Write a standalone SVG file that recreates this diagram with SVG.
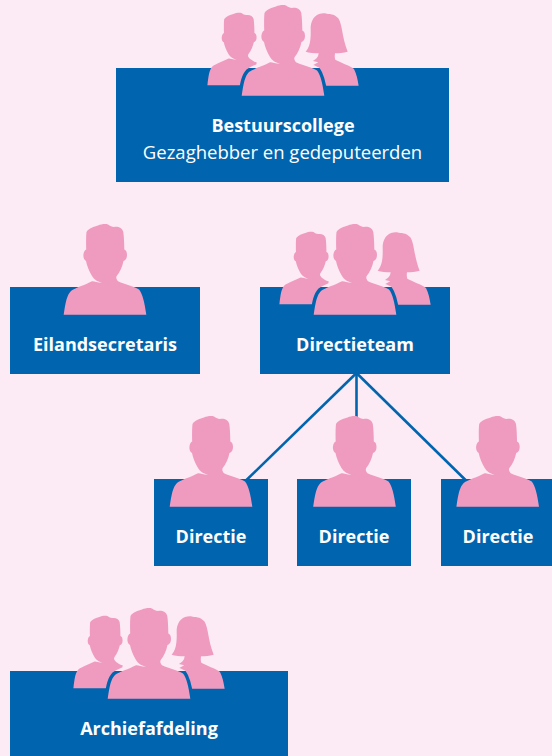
<svg xmlns="http://www.w3.org/2000/svg" xmlns:xlink="http://www.w3.org/1999/xlink" width="552" height="756" viewBox="0 0 552 756">
<style>
.box{fill:#0065AE}
.fig{fill:#EF9BC0}
.lbl{font-family:"Open Sans","Noto Sans",sans-serif;font-size:18px;fill:#fff;text-anchor:middle;font-weight:700}
.sub{font-weight:400;font-size:18.5px}
.ln{stroke:#0065AE;stroke-width:2.6;fill:none}
</style>
<defs>
<path id="man" d="M-41.3 90.7C-39.5 78-38 71-34 67C-30 64-20 61-13 57.3C-11 57-8 58.7-3 58.7C-7 58-11 55.5-13 52C-16 47-18 42-19 37C-21 36-22 33-21.5 30C-21 27.5-20 26-18.8 25.5C-19 20-19 12-18.5 8C-16 4-11 2.5-7 1.5C-4 .3 0 -.4 3 .5C5 2 7 3 9 3C13 2.2 17 3.5 18.3 8C19 13 19.3 20 19.3 25.5C21 26 22 28 22 31C22 34 20.5 36.5 18.5 37C17.5 42 15 48 11.7 52C10.5 54 12 56 13 57.3C20 60.5 30 63 34 65.5C37.5 70 39.5 78 41.3 90.7Z"/>
<path id="woman" d="M347 155C365 135 362 100 362 80C365 50 385 38 405 40C420 44 430 40 445 55C458 75 455 110 473 155C460 159 447 160 435 160C434 168 434 174 436 179C450 187 480 197 492 207C500 222 503 240 506 257L400 257L360 200L385 187L369 183C378 178 385 172 386 160C372 160 358 158 347 155Z"/>
<path id="manL" d="M-39.5 90.7C-38 78-37 71-33 67C-29 64-20 61-13 57.3C-11 57-8 58.7-3 58.7C-7 58-11 55.5-13 52C-16 47-18 42-19 37C-21 36-22 33-21.5 30C-21 27.5-20 26-18.8 25.5C-19 20-19 12-18.5 8C-16 4-11 2.5-7 1.5C-4 .3 0 -.4 3 .5C5 2 7 3 9 3C13 2.2 17 3.5 18.3 8C19 13 19.3 20 19.3 25.5C21 26 22 28 22 31C22 34 20.5 36.5 18.5 37C17.5 42 15 48 11.7 52C10.5 54 12 56 14 58C18 61 20 62 22 62L20 90.7Z"/>
<clipPath id="above"><rect x="-60" y="-10" width="120" height="73"/></clipPath>
<clipPath id="below"><rect x="-60" y="63" width="120" height="40"/></clipPath>
<g id="trio">
<use href="#manL" class="fig" transform="translate(-44 7.7) scale(.8)"/>
<use href="#woman" class="fig" transform="translate(-93 -5) scale(.3333)"/>
<g clip-path="url(#above)"><use href="#man" fill="#FCEAF5" stroke="#FCEAF5" stroke-width="7"/></g>
<g clip-path="url(#below)"><use href="#man" fill="#0065AE" stroke="#0065AE" stroke-width="7"/></g>
<use href="#man" class="fig"/>
</g>
</defs>
<rect width="552" height="756" fill="#FCEAF5"/>
<g id="connectors">
<line class="ln" x1="356.5" y1="373" x2="246.5" y2="480"/>
<line class="ln" x1="356.5" y1="373" x2="356.5" y2="420"/>
<line class="ln" x1="356.5" y1="373" x2="465.5" y2="480"/>
</g>
<g id="bestuurscollege">
<rect class="box" x="116" y="68" width="333" height="114"/>
<use href="#trio" transform="translate(283 5)"/>
<text class="lbl" x="283" y="132">Bestuurscollege</text>
<text class="lbl sub" x="282.5" y="159">Gezaghebber en gedeputeerden</text>
</g>
<g id="eilandsecretaris">
<rect class="box" x="10" y="287" width="190" height="87"/>
<use href="#man" class="fig" transform="translate(105 224)"/>
<text class="lbl" x="105" y="350.500">Eilandsecretaris</text>
</g>
<g id="directieteam">
<rect class="box" x="260" y="287" width="190" height="87"/>
<use href="#trio" transform="translate(355 224)"/>
<text class="lbl" x="355" y="350.500">Directieteam</text>
</g>
<g id="directie1">
<rect class="box" x="154" y="479" width="114" height="87"/>
<use href="#man" class="fig" transform="translate(211 416)"/>
<text class="lbl" x="211" y="542.500">Directie</text>
</g>
<g id="directie2">
<rect class="box" x="297" y="479" width="114" height="87"/>
<use href="#man" class="fig" transform="translate(354.500 416)"/>
<text class="lbl" x="354" y="542.500">Directie</text>
</g>
<g id="directie3">
<rect class="box" x="441" y="479" width="111" height="87"/>
<use href="#man" class="fig" transform="translate(497.700 416)"/>
<text class="lbl" x="498" y="542.500">Directie</text>
</g>
<g id="archiefafdeling">
<rect class="box" x="10" y="671" width="278" height="85"/>
<use href="#trio" transform="translate(149 608)"/>
<text class="lbl" x="149" y="734.500">Archiefafdeling</text>
</g>
</svg>
